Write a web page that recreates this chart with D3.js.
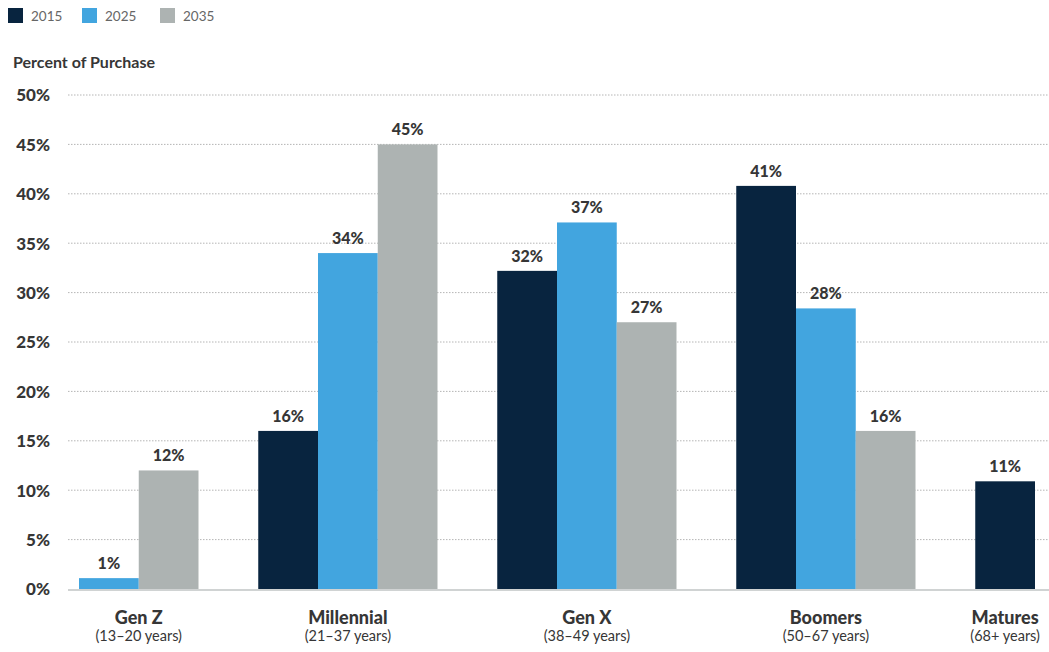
<!DOCTYPE html>
<html>
<head>
<meta charset="utf-8">
<script src="https://cdn.jsdelivr.net/npm/d3@7"></script>
<style>
  html, body { margin: 0; padding: 0; background: #fff; }
  svg { display: block; font-family: "Lato", "Open Sans", sans-serif; }
</style>
</head>
<body>
<svg id="chart" width="1049" height="652"></svg>
<script>
// ---- data ----
const categories = ["Gen Z", "Millennial", "Gen X", "Boomers", "Matures"];
const subLabels = ["(13–20 years)", "(21–37 years)", "(38–49 years)", "(50–67 years)", "(68+ years)"];
const seriesNames = ["2015", "2025", "2035"];
const values2015 = [null, 16, 32.2, 40.8, 10.9];
const values2025 = [1.1, 34, 37.1, 28.4, null];
const values2035 = [12, 45, 27, 16, null];
const yTicks = [0, 5, 10, 15, 20, 25, 30, 35, 40, 45, 50];
const colors = ["#08243f", "#42a5df", "#adb3b2"];

const series = [values2015, values2025, values2035];

// ---- layout ----
const svg = d3.select("#chart");
const W = 1049;
const textColor = "#363636";

// build slot list: present bars per group, with one empty gap slot between groups
const slots = [];
const bars = [];
categories.forEach((c, ci) => {
  series.forEach((vals, si) => {
    const v = vals[ci];
    if (v !== null && v !== undefined) {
      const key = c + "|" + si;
      slots.push(key);
      bars.push({ key, cat: c, ci, si, value: v });
    }
  });
  if (ci < categories.length - 1) slots.push("gap" + ci);
});

const x = d3.scaleBand().domain(slots).range([79, 1035]).padding(0);
const y = d3.scaleLinear().domain([0, 50]).range([589, 95]);

// legend
const legend = svg.append("g");
const legendX = [8, 82, 160];
seriesNames.forEach((s, i) => {
  legend.append("rect").attr("x", legendX[i]).attr("y", 8).attr("width", 15).attr("height", 15).attr("fill", colors[i]);
  legend.append("text").attr("x", legendX[i] + 23).attr("y", 21)
    .attr("font-size", 13.5).attr("fill", "#666").text(s);
});

// y title
svg.append("text").attr("x", 13).attr("y", 68).attr("font-size", 16).attr("font-weight", 700)
  .attr("fill", textColor).text("Percent of Purchase");

// gridlines
svg.append("g").selectAll("line").data(yTicks.filter(t => t > 0)).join("line")
  .attr("x1", 68).attr("x2", W).attr("y1", d => y(d)).attr("y2", d => y(d))
  .attr("stroke", "#b5b5b5").attr("stroke-width", 1).attr("stroke-dasharray", "1.5,1.5");

// y axis labels via d3 axis
const yAxis = svg.append("g").attr("transform", "translate(50,0)")
  .call(d3.axisLeft(y).tickValues(yTicks).tickFormat(d => d + "%").tickSize(0).tickPadding(0));
yAxis.select(".domain").remove();
yAxis.selectAll("text").attr("font-size", 17).attr("font-weight", 900).attr("fill", textColor)
  .attr("font-family", "Lato, 'Open Sans', sans-serif").attr("dy", "0.35em");

// bars
svg.append("g").selectAll("rect").data(bars).join("rect")
  .attr("x", d => x(d.key)).attr("width", x.bandwidth())
  .attr("y", d => y(d.value)).attr("height", d => y(0) - y(d.value))
  .attr("fill", d => colors[d.si]);

// value labels
svg.append("g").selectAll("text").data(bars).join("text")
  .attr("x", d => x(d.key) + x.bandwidth() / 2).attr("y", d => y(d.value) - 9)
  .attr("text-anchor", "middle").attr("font-size", 16).attr("font-weight", 900).attr("fill", textColor)
  .text(d => Math.round(d.value) + "%");

// baseline
svg.append("line").attr("x1", 68).attr("x2", W).attr("y1", y(0) + 1).attr("y2", y(0) + 1)
  .attr("stroke", "#d0d3d3").attr("stroke-width", 2);

// category labels
categories.forEach((c, ci) => {
  const b = bars.filter(d => d.ci === ci);
  const x0 = x(b[0].key), x1 = x(b[b.length - 1].key) + x.bandwidth();
  const cx = (x0 + x1) / 2;
  svg.append("text").attr("x", cx).attr("y", 624).attr("text-anchor", "middle")
    .attr("font-size", 18).attr("font-weight", 900).attr("fill", textColor).text(c);
  svg.append("text").attr("x", cx).attr("y", 641).attr("text-anchor", "middle")
    .attr("font-size", 14.5).attr("fill", textColor).text(subLabels[ci]);
});
</script>
</body>
</html>
